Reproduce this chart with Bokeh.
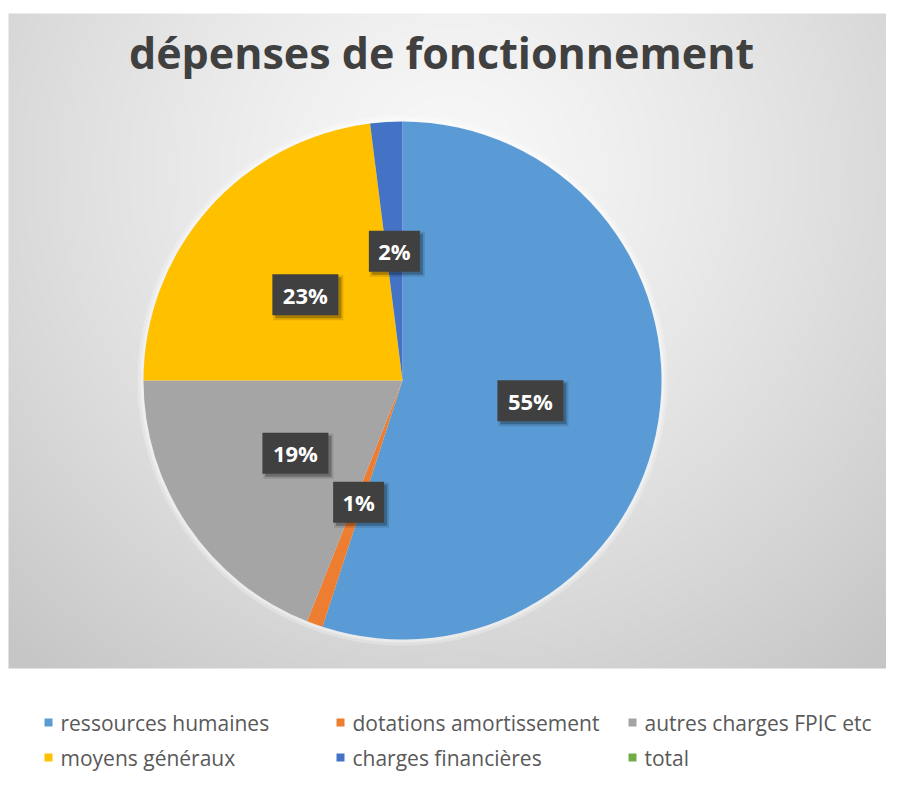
import numpy as np
from bokeh.plotting import figure
from bokeh.models import Range1d, ColumnDataSource
from bokeh.core.properties import value
from bokeh.embed import file_html
from bokeh.resources import INLINE

# ---------------- data ----------------
title = "dépenses de fonctionnement"
categories = ["ressources humaines", "dotations amortissement", "autres charges FPIC etc",
              "moyens généraux", "charges financières", "total"]
percentages = [55, 1, 19, 23, 2, 0]
colors = ["#5B9BD5", "#ED7D31", "#A5A5A5", "#FFC000", "#4472C4", "#70AD47"]

# ---------------- layout (picture pixel coordinates) ----------------
W, H = 886, 773


def Y(sy):
    # convert a picture y (top-down) to a data y (bottom-up)
    return H - sy


p = figure(width=W, height=H, x_range=Range1d(0, W), y_range=Range1d(0, H),
           output_backend="svg", toolbar_location=None, x_axis_type=None, y_axis_type=None,
           min_border=0)
p.grid.visible = False
p.outline_line_color = None
p.background_fill_color = "white"
p.border_fill_color = "white"

# ---- background panel with radial gray gradient ----
px0, px1, py0, py1 = 8, 886, 13, 668
nx, ny = 439, 328
xs = px0 + (np.arange(nx) + 0.5) * (px1 - px0) / nx
ys_screen = py1 - (np.arange(ny) + 0.5) * (py1 - py0) / ny
XX, YY = np.meshgrid(xs, ys_screen)
d = np.sqrt((XX - 450) ** 2 + (YY - 170) ** 2)
g = 248 - 50 * np.clip(d / 650, 0, 1) ** 1.3
g = g.astype(np.uint32)
img = (255 << 24) | (g << 16) | (g << 8) | g
p.image_rgba(image=[img.astype(np.uint32)], x=px0, y=Y(py1), dw=px1 - px0, dh=py1 - py0)

# ---- pie ----
cx, cy, r = 402, Y(380), 259
vals = np.array(percentages, dtype=float)
cum = np.concatenate([[0], np.cumsum(vals)]) / vals.sum()
start = np.pi / 2 - 2 * np.pi * cum[:-1]
end = np.pi / 2 - 2 * np.pi * cum[1:]
mask = vals > 0

# soft glow around pie
for extra, a in [(6, 0.25), (3, 0.35)]:
    p.circle(x=[cx], y=[cy], radius=r + extra, fill_color="white", fill_alpha=a, line_color=None)

src = ColumnDataSource(dict(start=start[mask], end=end[mask],
                            color=[c for c, m in zip(colors, mask) if m]))
p.wedge(x=cx, y=cy, radius=r, start_angle="start", end_angle="end", direction="clock",
        fill_color="color", line_color=None, source=src)

# ---- data labels ----
mid = (cum[:-1] + cum[1:]) / 2
theta = np.pi / 2 - 2 * np.pi * mid
lx = cx + 0.5 * r * np.cos(theta)
ly = cy + 0.5 * r * np.sin(theta)
labels = [f"{int(v)}%" for v in vals]
lab_x = lx[mask]
lab_y = ly[mask]
lab_t = [t for t, m in zip(labels, mask) if m]
box_w = [15 * len(t) + 21 for t in lab_t]

lsrc = ColumnDataSource(dict(x=lab_x, y=lab_y, t=lab_t, w=box_w,
                             xs=lab_x + 3, ys=lab_y - 3,
                             w2=[b + 4 for b in box_w]))
p.rect(x="xs", y="ys", width="w2", height=45, width_units="screen", height_units="screen",
       fill_color="black", fill_alpha=0.12, line_color=None, source=lsrc)
p.rect(x="xs", y="ys", width="w", height=41, width_units="screen", height_units="screen",
       fill_color="black", fill_alpha=0.25, line_color=None, source=lsrc)
p.rect(x="x", y="y", width="w", height=41, width_units="screen", height_units="screen",
       fill_color="#404040", line_color=None, source=lsrc)
p.text(x="x", y="y", text="t", text_color="white", text_font=value("Open Sans"),
       text_font_style="bold", text_font_size="22px", text_align="center",
       text_baseline="middle", source=lsrc)

# ---- title ----
p.text(x=[441], y=[Y(52)], text=[title], text_color="#404040", text_font=value("Open Sans"),
       text_font_style="bold", text_font_size="43px", text_align="center",
       text_baseline="middle")

# ---- legend (manual, 3 equal columns) ----
col_x = [48, 340, 632]
row_y = [722, 757]
leg_x = [col_x[i % 3] for i in range(len(categories))]
leg_y = [Y(row_y[i // 3]) for i in range(len(categories))]
legsrc = ColumnDataSource(dict(x=leg_x, y=leg_y, tx=[x + 12 for x in leg_x], t=categories, c=colors))
p.scatter(x="x", y="y", marker="square", size=8, fill_color="c", line_color=None, source=legsrc)
p.text(x="tx", y="y", text="t", text_color="#595959", text_font=value("Open Sans"),
       text_font_size="21px", text_baseline="middle", source=legsrc)

open("out.html", "w").write(file_html(p, INLINE))
